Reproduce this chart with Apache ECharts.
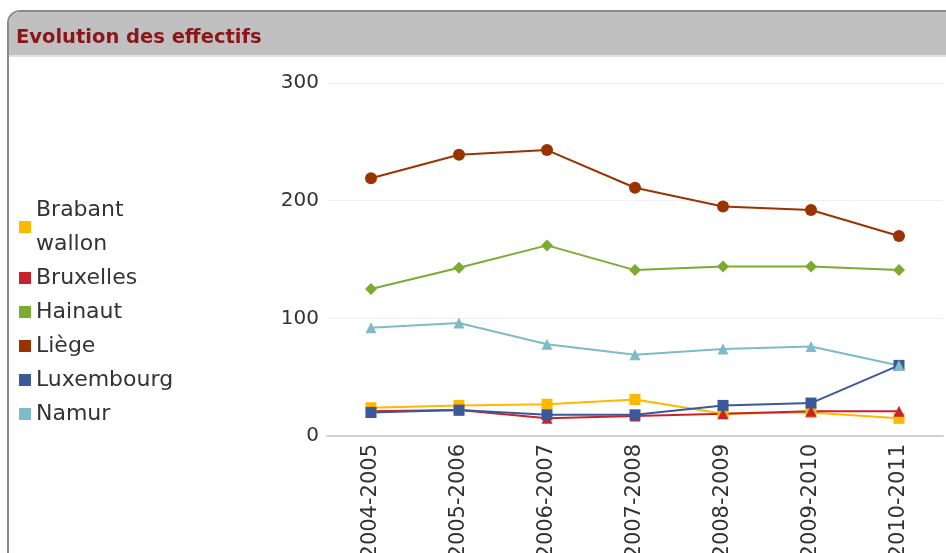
<!DOCTYPE html>
<html>
<head>
<meta charset="utf-8">
<script src="https://cdn.jsdelivr.net/npm/echarts@6/dist/echarts.min.js"></script>
<style>
html,body{margin:0;padding:0;background:#fff;}
#chart{width:946px;height:553px;}
</style>
</head>
<body>
<div id="chart"></div>
<script>
const categories = ['2004-2005','2005-2006','2006-2007','2007-2008','2008-2009','2009-2010','2010-2011'];
const brabantWallon = [24, 26, 27, 31, 19, 20, 15];
const bruxelles     = [21, 22, 15, 17, 19, 21, 21];
const hainaut       = [125, 143, 162, 141, 144, 144, 141];
const liege         = [219, 239, 243, 211, 195, 192, 170];
const luxembourg    = [20, 22, 18, 18, 26, 28, 60];
const namur         = [92, 96, 78, 69, 74, 76, 60];
const yTicks = [0, 100, 200, 300];

const FONT = 'DejaVu Sans';
function mk(name, data, color, symbol, size) {
  return {
    name: name, type: 'line', data: data,
    symbol: symbol, symbolSize: size,
    lineStyle: {color: color, width: 2},
    itemStyle: {color: color},
    emphasis: {disabled: true},
    animation: false
  };
}
const chart = echarts.init(document.getElementById('chart'));
chart.setOption({
  animation: false,
  graphic: [
    {type: 'rect', z: -10, shape: {x: 8, y: 11, width: 950, height: 560, r: [12, 0, 0, 0]},
     style: {fill: '#ffffff', stroke: '#8a8a8a', lineWidth: 2}},
    {type: 'rect', z: -9, shape: {x: 9, y: 12, width: 950, height: 43, r: [11, 0, 0, 0]},
     style: {fill: '#c0c0c0'}},
    {type: 'rect', z: -9, shape: {x: 9, y: 55, width: 950, height: 2},
     style: {fill: '#e2e2e2'}}
  ],
  title: {
    text: 'Evolution des effectifs', left: 11, top: 23,
    textStyle: {color: '#8b1518', fontSize: 19.5, fontWeight: 'bold', fontFamily: FONT}
  },
  legend: {
    orient: 'vertical', left: 14, top: 188, itemGap: 0,
    itemWidth: 12, itemHeight: 12, icon: 'rect',
    formatter: function (n) { return n === 'Brabant wallon' ? 'Brabant\nwallon' : n; },
    textStyle: {fontSize: 22, lineHeight: 34, color: '#333', fontFamily: FONT, padding: [0,0,0,0]},
    selectedMode: false
  },
  grid: {left: 327, right: 3, top: 83, bottom: 117, outerBoundsMode: 'none', containLabel: false},
  xAxis: {
    type: 'category', data: categories, boundaryGap: true,
    axisLine: {lineStyle: {color: '#d0d0d0', width: 2}},
    axisTick: {show: false},
    axisLabel: {rotate: 90, fontSize: 21, color: '#333', fontFamily: FONT, margin: 8, interval: 0}
  },
  yAxis: {
    type: 'value', min: yTicks[0], max: yTicks[yTicks.length - 1], interval: 100,
    axisLine: {show: false}, axisTick: {show: false},
    axisLabel: {fontSize: 20, color: '#333', fontFamily: FONT, margin: 8},
    splitLine: {lineStyle: {color: '#efefef', width: 1}}
  },
  series: [
    mk('Brabant wallon', brabantWallon, '#ffb800', 'rect', 11),
    mk('Bruxelles', bruxelles, '#c8232c', 'triangle', 11),
    mk('Hainaut', hainaut, '#7bab31', 'diamond', 12),
    mk('Liège', liege, '#993300', 'circle', 12),
    mk('Luxembourg', luxembourg, '#3b5898', 'rect', 11),
    mk('Namur', namur, '#7fbac8', 'triangle', 11)
  ]
});
</script>
</body>
</html>
